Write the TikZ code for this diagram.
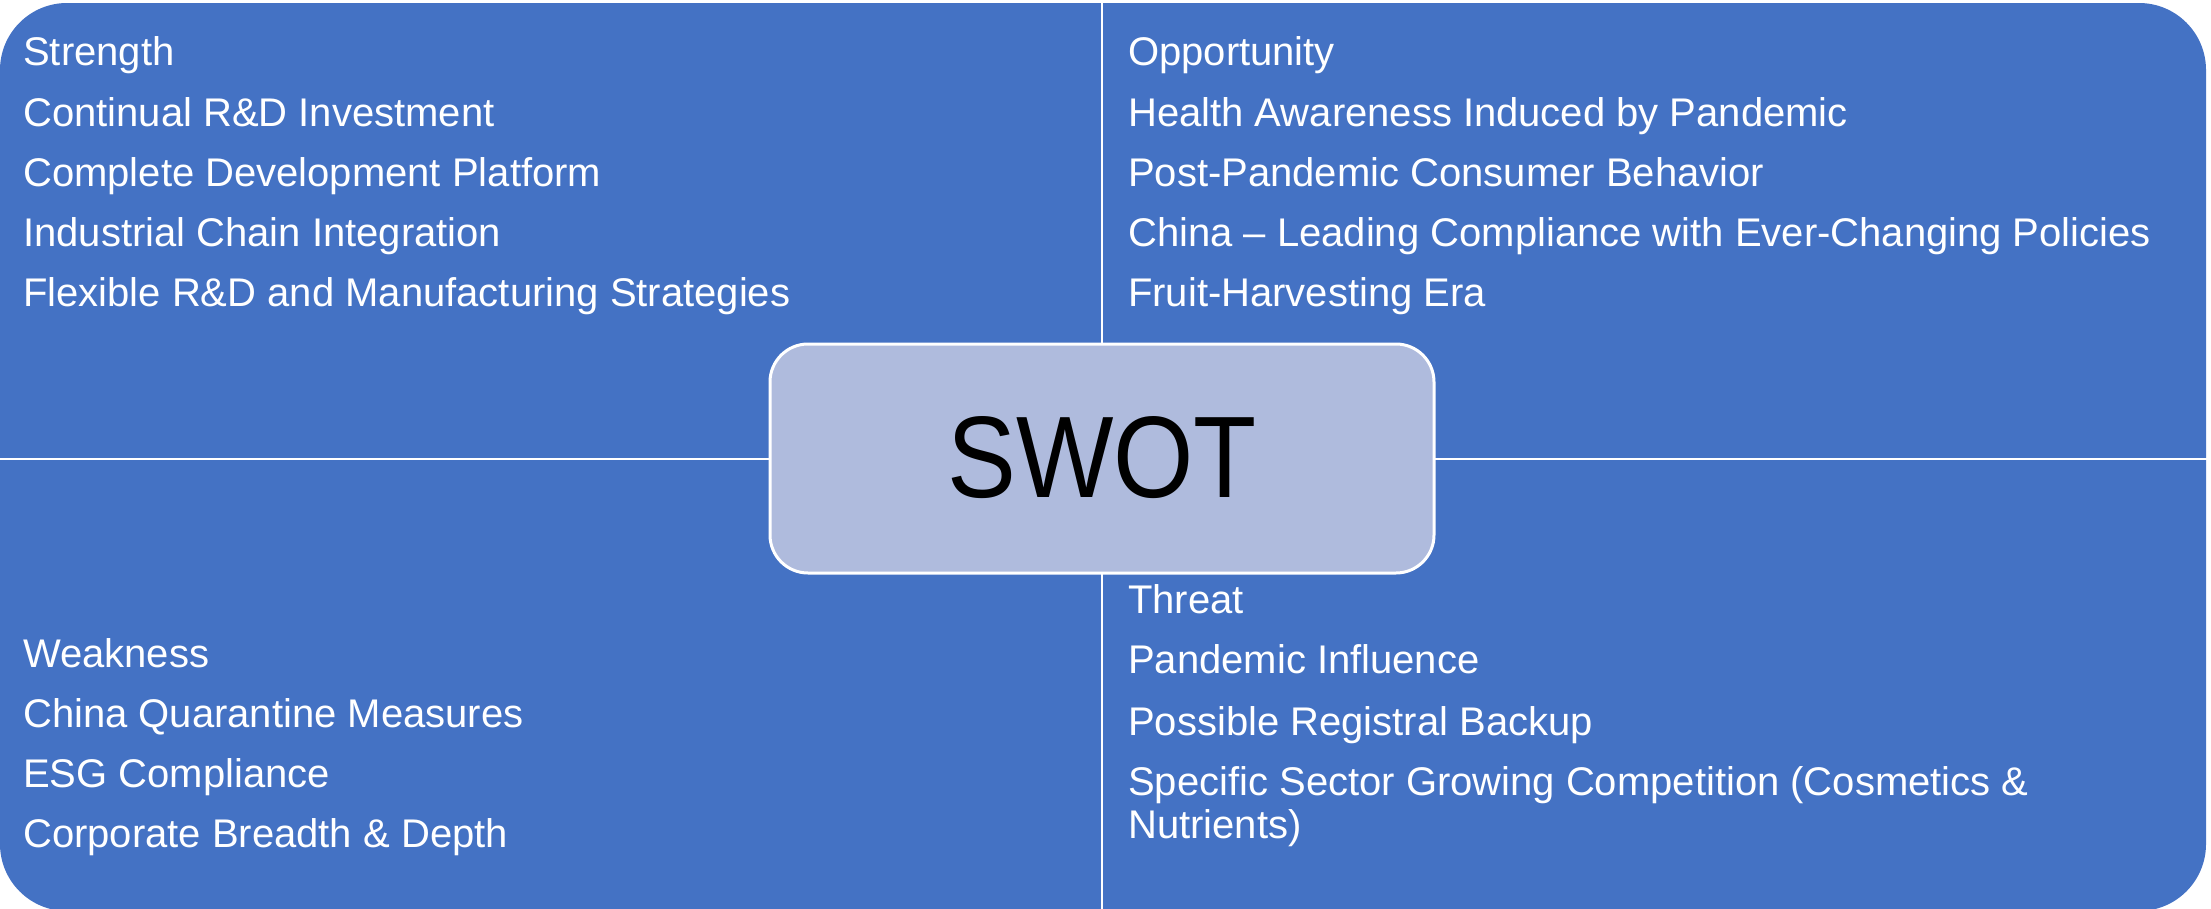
\documentclass[tikz,border=0pt]{standalone}
\usepackage{fontspec}
\setmainfont{Liberation Sans}
\newfontfamily\swotfont[FakeStretch=0.89]{Liberation Sans}
\definecolor{qblue}{HTML}{4472C4}
\definecolor{swotfill}{HTML}{AFBBDD}
\begin{document}
\begin{tikzpicture}[x=1pt,y=-1pt,
  item/.style={anchor=base west, text=white, inner sep=0pt, font=\fontsize{40}{40}\selectfont},
  divider/.style={draw=white, line width=2.5pt},
  centerbox/.style={draw=white, line width=3pt, fill=swotfill, rounded corners=38pt,
    minimum width=664pt, minimum height=229pt, inner sep=0pt,
    font=\swotfont\fontsize{116}{116}\selectfont, text=black}]
\useasboundingbox (0,0) rectangle (2211,908);
\clip (0,0) rectangle (2211,908);
% background shape
\fill[qblue, rounded corners=67pt] (0,3) rectangle (2206,911);
% dividers
\coordinate (vt) at (1102,0);
\coordinate (vb) at (1102,910);
\coordinate (hl) at (0,459);
\coordinate (hr) at (2211,459);
\draw[divider] (vt) -- (vb);
\draw[divider] (hl) -- (hr);
% center
\node[centerbox] (swot) at (1102,458.5) {\raisebox{4pt}{SWOT}};
% Strength
\node[item] (s0) at (23,65) {Strength};
\node[item] (s1) at (23,126) {Continual R\&D Investment};
\node[item] (s2) at (23,186) {Complete Development Platform};
\node[item] (s3) at (23,246) {Industrial Chain Integration};
\node[item] (s4) at (23,306) {Flexible R\&D and Manufacturing Strategies};
% Opportunity
\node[item] (o0) at (1128,65) {Opportunity};
\node[item] (o1) at (1128,126) {Health Awareness Induced by Pandemic};
\node[item] (o2) at (1128,186) {Post-Pandemic Consumer Behavior};
\node[item] (o3) at (1128,246) {China – Leading Compliance with Ever-Changing Policies};
\node[item] (o4) at (1128,306) {Fruit-Harvesting Era};
% Weakness
\node[item] (w0) at (23,667) {Weakness};
\node[item] (w1) at (23,727) {China Quarantine Measures};
\node[item] (w2) at (23,787) {ESG Compliance};
\node[item] (w3) at (23,847) {Corporate Breadth \& Depth};
% Threat
\node[item] (t0) at (1128,613) {Threat};
\node[item] (t1) at (1128,673) {Pandemic Influence};
\node[item] (t2) at (1128,735) {Possible Registral Backup};
\node[item] (t3) at (1128,795) {Specific Sector Growing Competition (Cosmetics \&};
\node[item] (t4) at (1128,838) {Nutrients)};
\end{tikzpicture}
\end{document}
